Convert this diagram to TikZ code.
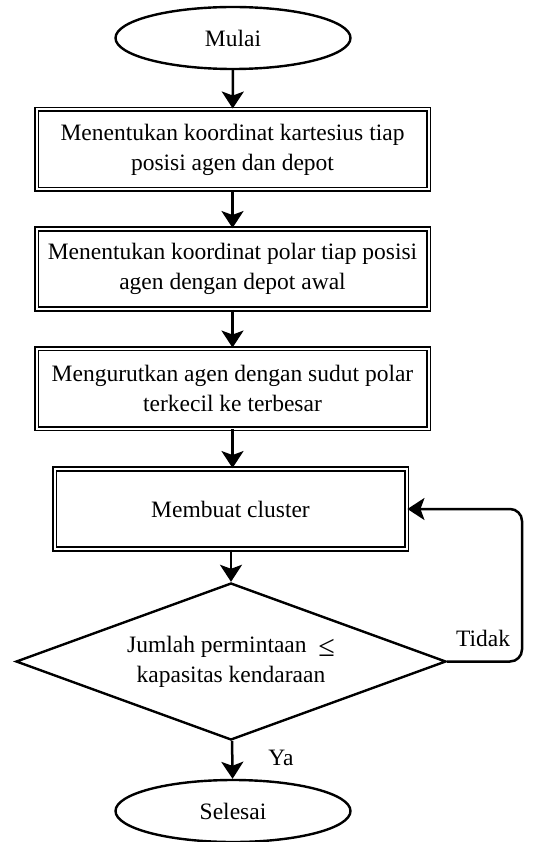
\documentclass[tikz,border=0pt]{standalone}
\usepackage{fontspec}
\setmainfont{Liberation Serif}
\usetikzlibrary{arrows.meta,shapes.geometric}

\begin{document}
\begin{tikzpicture}[
  x=1pt,y=1pt,
  font=\fontsize{23.5}{30}\selectfont,
  terminal/.style={ellipse,draw,line width=2.4pt,minimum width=235pt,
                   minimum height=62pt,inner sep=0pt},
  process/.style={rectangle,draw,line width=1.9pt,double,double distance=2pt,
                  minimum width=392pt,minimum height=80pt,align=center,inner sep=2pt},
  decision/.style={diamond,draw,line width=2.4pt,minimum width=430pt,
                   minimum height=157pt,aspect=2.7,inner sep=0pt,align=center},
  flow/.style={-{Stealth[length=17pt,width=22pt,inset=4pt]},line width=2.5pt},
  edgelabel/.style={font=\fontsize{23.5}{26}\selectfont}
]
\useasboundingbox (0,0) rectangle (536,-842);

% Steps of the sweep clustering.
\node[terminal] (start) at (233,-38) {Mulai};
\node[process] (cart) at (232.5,-149.5)
  {Menentukan koordinat kartesius tiap\\posisi agen dan depot};
\node[process] (polar) at (232.5,-269)
  {Menentukan koordinat polar tiap posisi\\agen dengan depot awal};
\node[process] (sort) at (232.5,-388.5)
  {Mengurutkan agen dengan sudut polar\\terkecil ke terbesar};
\node[process,minimum width=352pt] (clus) at (230.5,-509) {Membuat cluster};
\node[decision] (check) at (231,-661.5)
  {Jumlah permintaan \ \raisebox{-4pt}{\fontsize{30}{30}\selectfont ≤}\\kapasitas kendaraan};
\node[terminal] (stop) at (233,-811) {Selesai};

\draw[flow] (start) -- (cart);
\draw[flow] (cart) -- (polar);
\draw[flow] (polar) -- (sort);
\draw[flow] (sort) -- (clus.north -| sort.south);
\draw[flow] (clus.south -| check.north) -- (check.north);
\draw[flow] (check) -- (stop);

% Loop back when capacity is exceeded.
\coordinate (turn) at (522,-661.5);
\draw[flow,rounded corners=12pt] (check.east) -- (turn) |- (clus.east);
\node[edgelabel] (no) at (483,-638) {Tidak};
\node[edgelabel] (yes) at (281,-758) {Ya};

\end{tikzpicture}
\end{document}
